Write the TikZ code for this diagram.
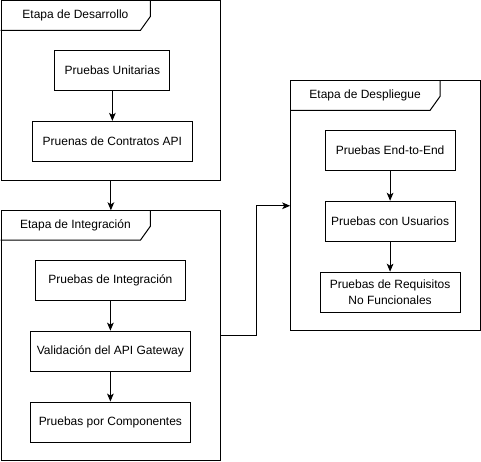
\documentclass[tikz,border=0pt]{standalone}
\usepackage{fontspec}
\setmainfont{Liberation Sans}
\usetikzlibrary{positioning, arrows.meta, calc}

\begin{document}
\begin{tikzpicture}[
  x=0.75pt, y=-0.75pt,
  line width=0.75pt,
  font=\fontsize{9}{11.5}\selectfont,
  stage/.style={rectangle, draw, anchor=north west, inner sep=0pt},
  test/.style={rectangle, draw, minimum height=30pt, align=center, inner sep=2pt},
  arr/.style={-{Stealth[length=6pt, width=5pt, inset=1.5pt]}}
]
\useasboundingbox (-0.5,-0.5) rectangle (481,461);

% stages
\node[stage, minimum width=165pt, minimum height=135pt] (dev) at (0,0) {};
\node[stage, minimum width=165pt, minimum height=187.5pt] (integ) at (0,210) {};
\node[stage, minimum width=142.5pt, minimum height=187.5pt] (deploy) at (290,80) {};

% stage tabs
\draw (dev.north west) ++(150,0) -- ++(0,16) -- ++(-10,14) -- ++(-140,0);
\node (devtab) at ($(dev.north west)+(75,15)$) {Etapa de Desarrollo};
\draw (integ.north west) ++(150,0) -- ++(0,16) -- ++(-10,14) -- ++(-140,0);
\node (integtab) at ($(integ.north west)+(75,15)$) {Etapa de Integración};
\draw (deploy.north west) ++(150,0) -- ++(0,16) -- ++(-10,14) -- ++(-140,0);
\node (deploytab) at ($(deploy.north west)+(75,15)$) {Etapa de Despliegue};

% tests
\node[test, minimum width=86.25pt] (unit) at ($(dev.north west)+(112,70)$) {Pruebas Unitarias};
\node[test, minimum width=120pt, below=22.5pt of unit] (contract) {Pruenas de Contratos API};

\node[test, minimum width=112.5pt] (integtest) at ($(integ.north west)+(110,70)$) {Pruebas de Integración};
\node[test, minimum width=120pt, below=22.5pt of integtest] (gateway) {Validación del API Gateway};
\node[test, minimum width=120pt, below=22.5pt of gateway] (comp) {Pruebas por Componentes};

\node[test, minimum width=97.5pt] (e2e) at ($(deploy.north west)+(100,70)$) {Pruebas End-to-End};
\node[test, minimum width=97.5pt, below=22.5pt of e2e] (users) {Pruebas con Usuarios};
\node[test, minimum width=105pt, below=22.5pt of users] (nfr) {Pruebas de Requisitos\\No Funcionales};

\draw[arr] (unit) -- (contract);
\draw[arr] (dev) -- (integ);
\draw[arr] (integtest) -- (gateway);
\draw[arr] (gateway) -- (comp);
\draw[arr] (integ.east) -- ++(35,0) |- (deploy.west);
\draw[arr] (e2e) -- (users);
\draw[arr] (users) -- (nfr);
\end{tikzpicture}
\end{document}
